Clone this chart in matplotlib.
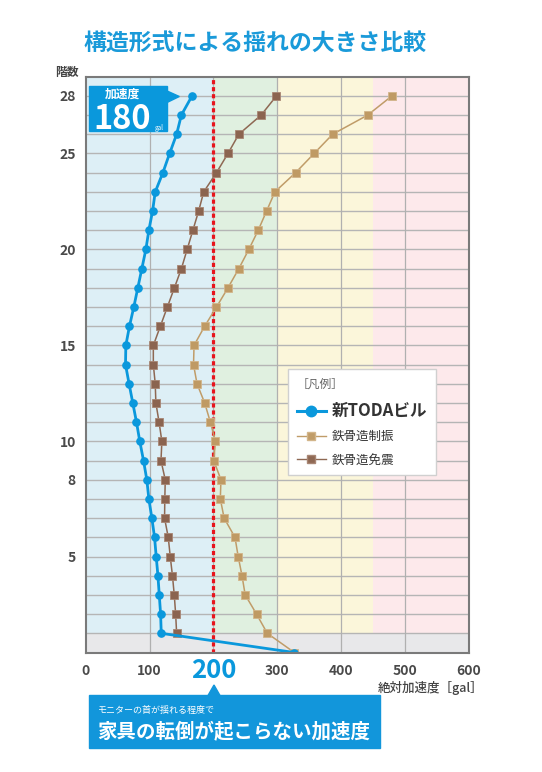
import matplotlib
matplotlib.use('Agg')
import matplotlib.pyplot as plt
from matplotlib.patches import Rectangle, Polygon
from matplotlib.lines import Line2D

plt.rcParams['font.family'] = ['Noto Sans CJK JP', 'DejaVu Sans']

# ---- data ----
levels = list(range(0, 30))            # grid rows from ground (0) to top (29)
ytick_levels = [5, 9, 11, 16, 21, 26, 29]
ytick_labels = ['5', '8', '10', '15', '20', '25', '28']
xticks = [0, 100, 300, 400, 500, 600]
xtick_labels = ['0', '100', '300', '400', '500', '600']

toda = [327, 118.4, 117.4, 115.3, 113.2, 110.5, 107.9, 103.7, 99, 95.8,
        90.6, 84.8, 79.6, 73.8, 68, 62.4, 62.9, 68.6, 75.4, 81.7,
        88, 94.3, 99, 104.8, 109, 121, 131.5, 142.5, 149.9, 166.7]
seisin = [327, 284.6, 267.8, 250, 245, 239, 234, 217, 211, 212,
          200.7, 203.3, 195.4, 186.5, 174.5, 169, 169.8, 186.5, 205, 223,
          240, 255.7, 270.4, 283.5, 296.6, 329, 358, 387, 442, 480]
menshin_levels = levels[1:]
menshin = [142.5, 141, 138.8, 136, 132.5, 129.4, 123.6, 124, 124.7,
           118, 119.4, 115, 110, 109, 106, 106, 117, 128, 139,
           150, 159, 168, 177, 185, 205, 223, 240, 275, 299]

bands = [(0, 200, '#ddeff6'), (200, 300, '#e0f0e0'), (300, 450, '#fbf6da'), (450, 600, '#fde9eb')]
threshold = 200
peak_label = '180'

W, H = 542, 772
fig = plt.figure(figsize=(W / 100, H / 100), dpi=100)
fig.patch.set_facecolor('white')

def P(x, y):
    return (x / W, 1 - y / H)

ax_l, ax_r, ax_t, ax_b = 85.7, 468.5, 76.7, 652.5
ax = fig.add_axes([ax_l / W, 1 - ax_b / H, (ax_r - ax_l) / W, (ax_b - ax_t) / H])
ax.set_xlim(0, 600)
ax.set_ylim(0, 30)

for x0, x1, c in bands:
    ax.axvspan(x0, x1, color=c, zorder=0, lw=0)
ax.axhspan(0, 1, color='#e8e8ea', zorder=0.5, lw=0)

for y in range(1, 30):
    ax.axhline(y, color='#b5b5b5', lw=1.0, zorder=1)
for x in [100, 200, 300, 400, 500]:
    ax.axvline(x, color='#b0b0b0', lw=0.9, zorder=1)

ax.axvline(threshold, color='#e8141c', lw=2.3, linestyle=(0, (1.3, 0.9)), zorder=2)

ax.plot(seisin, levels, color='#c09c68', lw=1.1, marker='s', markersize=5.2,
        markerfacecolor='#bf9a64', markeredgecolor='#d2b58a', markeredgewidth=0.6, zorder=3)
ax.plot(menshin, menshin_levels, color='#8e6853', lw=1.1, marker='s', markersize=5.2,
        markerfacecolor='#8b6450', markeredgecolor='#a88674', markeredgewidth=0.6, zorder=4)
ax.plot(toda, levels, color='#0a98dc', lw=2.0, marker='o', markersize=5.2,
        markerfacecolor='#0a98dc', markeredgecolor='#0a98dc', zorder=5)

for s in ax.spines.values():
    s.set_color('#7a7a7a')
    s.set_linewidth(1.5)
    s.set_zorder(6)

ax.set_yticks(ytick_levels)
ax.set_yticklabels(ytick_labels)
ax.set_xticks(xticks)
ax.set_xticklabels(xtick_labels)
ax.tick_params(length=0, labelsize=10, labelcolor='#4a4a4a')
ax.tick_params(axis='y', pad=7)
ax.tick_params(axis='x', pad=8)
for t in ax.get_xticklabels() + ax.get_yticklabels():
    t.set_fontweight('bold')

# legend
h1 = Line2D([], [], color='#0a98dc', lw=2.2, marker='o', markersize=7.5)
h2 = Line2D([], [], color='#c09c68', lw=1.0, marker='s', markersize=5.5, markeredgecolor='#d2b58a')
h3 = Line2D([], [], color='#8e6853', lw=1.0, marker='s', markersize=5.5, markeredgecolor='#a88674')
leg = ax.legend([h1, h2, h3], ['新TODAビル', '鉄骨造制振', '鉄骨造免震'],
                title='［凡例］', alignment='left', loc='upper left',
                bbox_to_anchor=((288 - ax_l) / (ax_r - ax_l), 1 - (369 - ax_t) / (ax_b - ax_t)),
                fontsize=9, title_fontsize=8.5, frameon=True, fancybox=False,
                edgecolor='#d0d0d0', facecolor='white', framealpha=1,
                handlelength=2.3, handletextpad=0.5, labelspacing=0.85,
                borderpad=0.7, borderaxespad=0)
leg.get_frame().set_linewidth(1.0)
leg.get_title().set_color('#666666')
texts = leg.get_texts()
texts[0].set_fontsize(12)
texts[0].set_fontweight('bold')
for t in texts:
    t.set_color('#333333')
leg.set_zorder(7)

# title and labels
fig.text(*P(255, 44), '構造形式による揺れの大きさ比較', color='#1a9ad9', fontsize=16.5,
         fontweight='bold', ha='center', va='center')
fig.text(*P(67, 72), '階数', color='#444444', fontsize=8.5, fontweight='bold', ha='center', va='center')
fig.text(*P(483, 688), '絶対加速度［gal］', color='#444444', fontsize=9, fontweight='medium',
         ha='right', va='center')

# 180 callout
fig.patches.append(Rectangle(P(89, 131.3), (167.3 - 89) / W, (131.3 - 86.3) / H,
                             transform=fig.transFigure, color='#0a98dc', zorder=8))
fig.patches.append(Polygon([P(166, 90.5), P(179.3, 96.5), P(166, 103)], closed=True,
                           transform=fig.transFigure, color='#0a98dc', zorder=8))
fig.text(*P(122, 94.5), '加速度', color='white', fontsize=8.5, fontweight='bold',
         ha='center', va='center', zorder=9)
fig.text(*P(121.7, 128.7), peak_label, color='white', fontsize=23.5, fontweight='bold',
         ha='center', va='baseline', zorder=9)
fig.text(*P(159.5, 127.5), 'gal', color='white', fontsize=4.5, ha='center', va='center', zorder=9)

# 200 label and bottom callout
fig.text(*P(213.5, 678), str(threshold), color='#0a98dc', fontsize=18.5, fontweight='bold',
         ha='center', va='baseline')
fig.patches.append(Rectangle(P(89.3, 747.7), (380 - 89.3) / W, (747.7 - 695.3) / H,
                             transform=fig.transFigure, color='#1296db', zorder=8))
fig.patches.append(Polygon([P(208, 695.5), P(214, 685), P(220, 695.5)], closed=True,
                           transform=fig.transFigure, color='#1296db', zorder=8))
fig.text(*P(98, 710), 'モニターの首が揺れる程度で', color='white', fontsize=6.5,
         ha='left', va='center', zorder=9)
fig.text(*P(97, 731), '家具の転倒が起こらない加速度', color='white', fontsize=14,
         fontweight='bold', ha='left', va='center', zorder=9)

fig.savefig('out.png', dpi=100, facecolor='white')
